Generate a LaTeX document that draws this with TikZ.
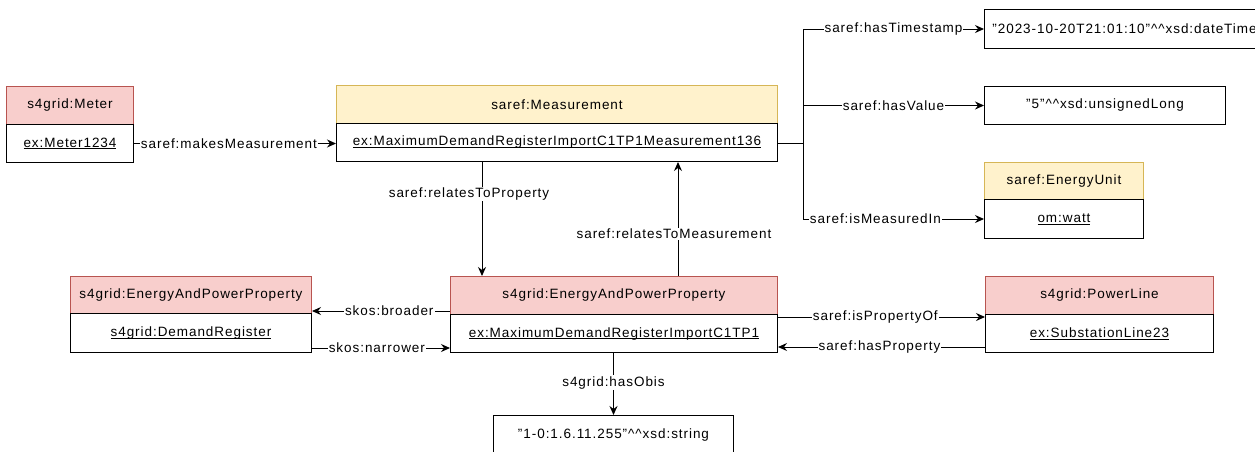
\documentclass[tikz,border=0pt]{standalone}
\usepackage{fontspec}
\setmainfont{Liberation Sans}[LetterSpace=7]
\usetikzlibrary{arrows.meta}
\definecolor{redF}{HTML}{F8CECC}
\definecolor{redS}{HTML}{B85450}
\definecolor{yelF}{HTML}{FFF2CC}
\definecolor{yelS}{HTML}{D6B656}
\newcommand\ulx[1]{\setbox0\hbox{#1}\rlap{\rule[-2.2pt]{\wd0}{0.9pt}}\box0}
\begin{document}
\begin{tikzpicture}[x=1pt,y=-1pt,font=\fontsize{13.5}{16}\selectfont,line width=1pt,
  box/.style={draw=black,line width=1pt,anchor=north west,inner sep=0pt,align=center,fill=white},
  hdrR/.style={box,fill=redF,draw=redS},
  hdrY/.style={box,fill=yelF,draw=yelS},
  arr/.style={-{Stealth[length=9pt,width=8pt,inset=3pt]},line width=1pt},
  lbl/.style={fill=white,inner sep=1pt}]
\useasboundingbox (0,0) rectangle (1255,451);
% Meter
\node[hdrR,minimum width=127pt,minimum height=38pt] (meterH) at (6,86) {s4grid:Meter};
\node[box,minimum width=127pt,minimum height=38pt] (meterB) at (6,124) {\ulx{ex:Meter1234}};
% Measurement
\node[hdrY,minimum width=441pt,minimum height=38pt] (measH) at (336,85) {saref:Measurement};
\node[box,minimum width=441pt,minimum height=38pt] (measB) at (336,123) {\ulx{ex:MaximumDemandRegisterImportC1TP1Measurement136}};
% literals
\node[box,minimum width=280pt,minimum height=39pt] (ts) at (984,9) {"2023-10-20T21:01:10"\^{}\^{}xsd:dateTime};
\node[box,minimum width=241pt,minimum height=38pt] (hv) at (984,86) {"5"\^{}\^{}xsd:unsignedLong};
% Energy unit
\node[hdrY,minimum width=159pt,minimum height=37pt] (euH) at (984,162) {saref:EnergyUnit};
\node[box,minimum width=159pt,minimum height=39pt] (euB) at (984,199) {\ulx{om:watt}};
% left property
\node[hdrR,minimum width=241pt,minimum height=37pt] (lH) at (70,276) {s4grid:EnergyAndPowerProperty};
\node[box,minimum width=241pt,minimum height=39pt] (lB) at (70,313) {\ulx{s4grid:DemandRegister}};
% center property
\node[hdrR,minimum width=327pt,minimum height=38pt] (cH) at (450,276) {s4grid:EnergyAndPowerProperty};
\node[box,minimum width=327pt,minimum height=38pt] (cB) at (450,314) {\ulx{ex:MaximumDemandRegisterImportC1TP1}};
% power line
\node[hdrR,minimum width=228pt,minimum height=38pt] (plH) at (985,276) {s4grid:PowerLine};
\node[box,minimum width=228pt,minimum height=38pt] (plB) at (985,314) {\ulx{ex:SubstationLine23}};
% obis
\node[box,minimum width=240pt,minimum height=38pt] (obis) at (493,415) {"1-0:1.6.11.255"\^{}\^{}xsd:string};

% connectors
\draw[arr] (meterB.east) -- node[lbl,pos=0.47]{saref:makesMeasurement} (meterB.east -| measB.west);
\coordinate (j) at (803,143);
\draw (measB.east |- j) -- (j);
\draw[arr] (j) |- node[lbl,pos=0.75]{saref:hasTimestamp} (ts.west);
\draw[arr] (j) |- node[lbl,pos=0.75]{saref:hasValue} (hv.west);
\draw[arr] (j) |- node[lbl,pos=0.7]{saref:isMeasuredIn} (euB.west);
\draw[arr] ([xshift=146pt]measB.south west) -- node[lbl,pos=0.28,xshift=-13pt]{saref:relatesToProperty} ([xshift=32pt]cH.north west);
\draw[arr] ([xshift=228pt]cH.north west) -- node[lbl,pos=0.37,xshift=-4pt]{saref:relatesToMeasurement} ([xshift=342pt]measB.south west);
\coordinate (b1) at ([yshift=4pt]cH.south west);
\draw[arr] (b1) -- node[lbl,pos=0.44]{skos:broader} (b1 -| lH.east);
\coordinate (n1) at ([yshift=5pt]lB.south east);
\draw[arr] (n1) -- node[lbl,pos=0.47]{skos:narrower} (n1 -| cB.west);
\coordinate (p1) at ([yshift=-3pt]cB.north east);
\draw[arr] (p1) -- node[lbl,pos=0.47]{saref:isPropertyOf} (p1 -| plB.west);
\coordinate (h1) at ([yshift=6pt]plB.south west);
\draw[arr] (h1) -- node[lbl,pos=0.51]{saref:hasProperty} (h1 -| cB.east);
\draw[arr] (obis.north |- cB.south) -- node[lbl,pos=0.48]{s4grid:hasObis} (obis.north);
\end{tikzpicture}
\end{document}
